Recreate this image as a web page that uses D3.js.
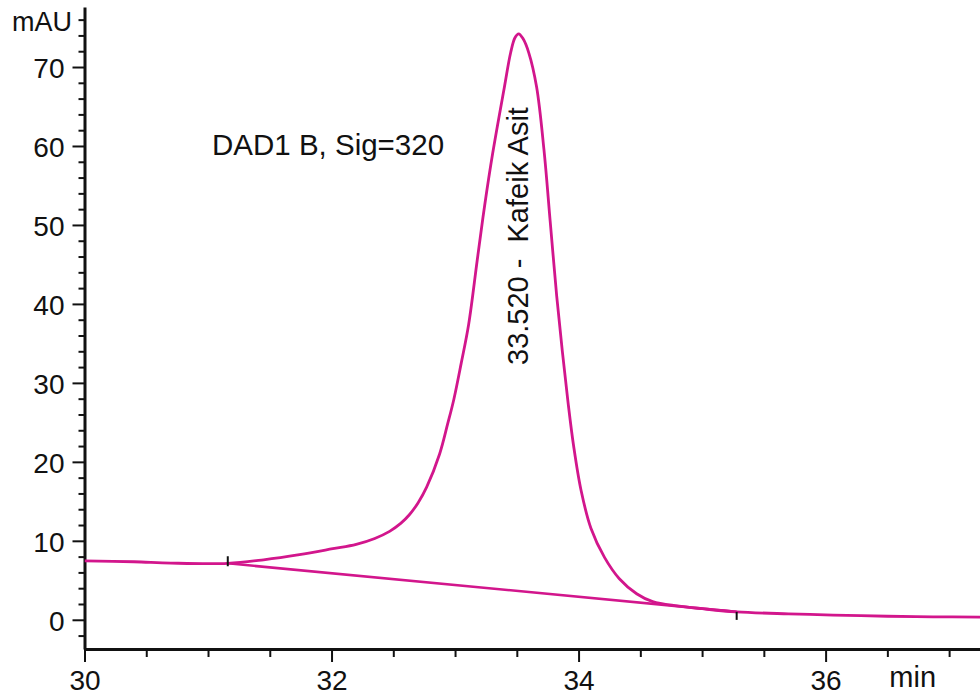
<!DOCTYPE html>
<html>
<head>
<meta charset="utf-8">
<script src="https://cdn.jsdelivr.net/npm/d3@7.9.0/dist/d3.min.js"></script>
<style>
    body { margin: 0; background: #fff; }
    svg text { font-family: "Liberation Sans", Arial, sans-serif; fill: #111; }
</style>
</head>
<body>
<div id="chart"></div>
<script>
// chromatogram signal (time in min, absorbance in mAU)
const signalTime = [30.00, 30.40, 30.70, 31.16, 31.45, 31.74, 32.01, 32.20, 32.35, 32.47,
    32.56, 32.63, 32.70, 32.77, 32.875, 32.94, 32.99, 33.05, 33.11, 33.18,
    33.24, 33.305, 33.40, 33.45, 33.485, 33.515, 33.55, 33.597, 33.66, 33.72,
    33.77, 33.823, 33.87, 33.915, 33.96, 34.02, 34.10, 34.21, 34.33, 34.47,
    34.60, 34.80, 35.00, 35.28, 35.70, 36.06, 36.50, 36.87, 37.25];
const signalValue = [7.45, 7.35, 7.18, 7.15, 7.6, 8.25, 9.0, 9.55, 10.3, 11.2,
    12.2, 13.3, 14.8, 16.8, 21.0, 24.8, 27.9, 32.5, 37.4, 45.6,
    52.5, 59.1, 67.5, 71.8, 73.7, 74.2, 73.6, 71.8, 67.5, 59.5,
    50.5, 41.0, 33.8, 27.5, 22.0, 16.4, 11.6, 7.9, 5.2, 3.3,
    2.3, 1.75, 1.4, 1.0, 0.75, 0.6, 0.45, 0.38, 0.33];

// integration baseline (start / end of peak)
const baselineTime = [31.16, 35.28];
const baselineValue = [7.15, 1.0];

const peakTime = 33.520;
const peakLabel = '33.520 -  Kafeik Asit';
const signalLabel = 'DAD1 B, Sig=320';

const xMajorTicks = [30, 32, 34, 36];
const xMinorTicks = [30.5, 31, 31.5, 32.5, 33, 33.5, 34.5, 35, 35.5, 36.5, 37];
const yMajorTicks = [0, 10, 20, 30, 40, 50, 60, 70];
const yMinorTicks = [-2, 2, 4, 6, 8, 12, 14, 16, 18, 22, 24, 26, 28, 32, 34, 36, 38,
    42, 44, 46, 48, 52, 54, 56, 58, 62, 64, 66, 68, 72, 74, 76];

const width = 980;
const height = 700;
const color = '#d2168c';

const xScale = d3.scaleLinear().domain([30, 37.25]).range([84.5, 980]);
const yScale = d3.scaleLinear().domain([-3.7, 77.6]).range([649, 7]);

const svg = d3.select('#chart')
    .append('svg')
    .attr('width', width)
    .attr('height', height)
    .style('display', 'block');

svg.append('rect').attr('width', width).attr('height', height).attr('fill', '#fff');

svg.append('defs').append('clipPath').attr('id', 'plot')
    .append('rect')
    .attr('x', xScale.range()[0]).attr('y', 0)
    .attr('width', xScale.range()[1] - xScale.range()[0])
    .attr('height', yScale.range()[0]);

function styleAxis(g) {
    g.select('.domain').attr('stroke', '#111').attr('stroke-width', 3);
    g.selectAll('.tick line').attr('stroke', '#111').attr('stroke-width', 2);
    g.selectAll('.tick text').attr('font-size', 28).attr('font-family', null);
}

// minor ticks first, majors on top
svg.append('g')
    .attr('transform', `translate(0, ${yScale.range()[0]})`)
    .call(d3.axisBottom(xScale).tickValues(xMinorTicks).tickFormat('').tickSize(8).tickSizeOuter(0))
    .call(styleAxis);

svg.append('g')
    .attr('transform', `translate(0, ${yScale.range()[0]})`)
    .call(d3.axisBottom(xScale).tickValues(xMajorTicks).tickSize(13).tickPadding(8).tickSizeOuter(0))
    .call(styleAxis)
    .call((g) => g.select('.domain').remove());

svg.append('g')
    .attr('transform', `translate(${xScale.range()[0]}, 0)`)
    .call(d3.axisLeft(yScale).tickValues(yMinorTicks).tickFormat('').tickSize(6).tickSizeOuter(0))
    .call(styleAxis);

svg.append('g')
    .attr('transform', `translate(${xScale.range()[0]}, 0)`)
    .call(d3.axisLeft(yScale).tickValues(yMajorTicks).tickSize(12).tickPadding(8).tickSizeOuter(0))
    .call(styleAxis)
    .call((g) => g.select('.domain').remove())
    .call((g) => g.selectAll('.tick text').attr('dy', '0.38em'));

// axis units
svg.append('text')
    .attr('x', 72).attr('y', 31)
    .attr('text-anchor', 'end')
    .attr('font-size', 27)
    .text('mAU');

svg.append('text')
    .attr('x', xScale(36.5) + 2).attr('y', 687)
    .attr('font-size', 29)
    .text('min');

// signal trace
const signal = signalTime.map((t, i) => ({ t, v: signalValue[i] }));
const line = d3.line()
    .x((d) => xScale(d.t))
    .y((d) => yScale(d.v))
    .curve(d3.curveCatmullRom.alpha(0.5));

const plot = svg.append('g').attr('clip-path', 'url(#plot)');

const baseline = baselineTime.map((t, i) => ({ t, v: baselineValue[i] }));
plot.append('path')
    .datum(baseline)
    .attr('d', d3.line().x((d) => xScale(d.t)).y((d) => yScale(d.v)))
    .attr('fill', 'none')
    .attr('stroke', color)
    .attr('stroke-width', 2.6);

plot.append('path')
    .datum(signal)
    .attr('d', line)
    .attr('fill', 'none')
    .attr('stroke', color)
    .attr('stroke-width', 2.8)
    .attr('stroke-linejoin', 'round');

// baseline start / end markers
plot.selectAll('.bl-tick')
    .data(baseline)
    .join('line')
    .attr('class', 'bl-tick')
    .attr('x1', (d) => xScale(d.t))
    .attr('x2', (d) => xScale(d.t))
    .attr('y1', (d, i) => yScale(d.v) + (i === 0 ? -7 : 0))
    .attr('y2', (d, i) => yScale(d.v) + (i === 0 ? 3 : 8))
    .attr('stroke', '#111')
    .attr('stroke-width', 2);

// labels
svg.append('text')
    .attr('x', 212).attr('y', 155)
    .attr('font-size', 29.5)
    .text(signalLabel);

svg.append('text')
    .attr('transform', `translate(${xScale(peakTime) + 9}, 365) rotate(-90)`)
    .attr('font-size', 29)
    .style('white-space', 'pre')
    .text(peakLabel);
</script>
</body>
</html>
